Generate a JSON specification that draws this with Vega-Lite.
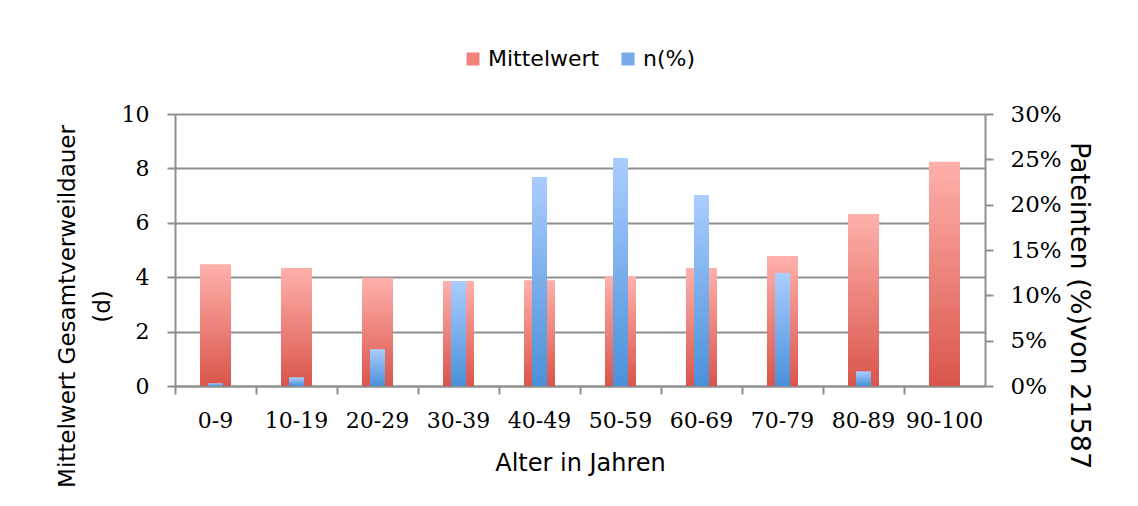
{
  "$schema": "https://vega.github.io/schema/vega-lite/v6.json",
  "width": 810,
  "height": 272,
  "autosize": "none",
  "padding": {"left": 175, "top": 114, "right": 153, "bottom": 120},
  "background": "white",
  "data": {
    "values": [
      {"Alter": "0-9", "Mittelwert": 4.48, "n": 0.3},
      {"Alter": "10-19", "Mittelwert": 4.34, "n": 0.96},
      {"Alter": "20-29", "Mittelwert": 3.98, "n": 4.06},
      {"Alter": "30-39", "Mittelwert": 3.86, "n": 11.57},
      {"Alter": "40-49", "Mittelwert": 3.89, "n": 23.06},
      {"Alter": "50-59", "Mittelwert": 4.04, "n": 25.16},
      {"Alter": "60-69", "Mittelwert": 4.34, "n": 21.07},
      {"Alter": "70-79", "Mittelwert": 4.78, "n": 12.45},
      {"Alter": "80-89", "Mittelwert": 6.32, "n": 1.62},
      {"Alter": "90-100", "Mittelwert": 8.24, "n": 0}
    ]
  },
  "encoding": {
    "x": {
      "field": "Alter",
      "type": "nominal",
      "sort": null,
      "scale": {"paddingInner": 0, "paddingOuter": 0},
      "axis": {
        "title": "Alter in Jahren",
        "labelAngle": 0,
        "bandPosition": 0,
        "tickSize": 8,
        "tickWidth": 2,
        "tickColor": "#8f8f8f",
        "domainColor": "#8f8f8f",
        "domainWidth": 2,
        "labelFont": "DejaVu Serif",
        "labelFontSize": 22,
        "labelColor": "#000000",
        "labelPadding": 16,
        "labelBaseline": "top",
        "titleFont": "DejaVu Sans",
        "titleFontSize": 24,
        "titleFontWeight": "normal",
        "titleColor": "#000000",
        "titleBaseline": "top",
        "titleY": 65,
        "titleX": 405
      }
    }
  },
  "layer": [
    {
      "mark": {
        "type": "bar",
        "width": 31,
        "color": {"gradient": "linear", "x1": 0, "y1": 0, "x2": 0, "y2": 1, "stops": [{"offset": 0, "color": "#ffb1ac"}, {"offset": 1, "color": "#d9554b"}]}
      },
      "encoding": {
        "y": {
          "field": "Mittelwert",
          "type": "quantitative",
          "scale": {"domain": [0, 10], "nice": false},
          "axis": {
            "orient": "left",
            "values": [0, 2, 4, 6, 8, 10],
            "grid": true,
            "gridColor": "#8f8f8f",
            "gridWidth": 2,
            "gridOpacity": 1,
            "tickSize": 8,
            "tickWidth": 2,
            "tickColor": "#8f8f8f",
            "domainColor": "#8f8f8f",
            "domainWidth": 2,
            "labelFont": "DejaVu Serif",
            "labelFontSize": 22,
            "labelColor": "#000000",
            "labelPadding": 18,
            "title": ["Mittelwert Gesamtverweildauer", "(d)"],
            "titleFont": "DejaVu Sans",
            "titleFontSize": 23,
            "titleFontWeight": "normal",
            "titleColor": "#000000",
            "titleAngle": 270,
            "titleAlign": "center",
            "titleBaseline": "top",
            "titleLineHeight": 35,
            "titleX": -119,
            "titleY": 192
          }
        }
      }
    },
    {
      "mark": {
        "type": "bar",
        "width": 15,
        "color": {"gradient": "linear", "x1": 0, "y1": 0, "x2": 0, "y2": 1, "stops": [{"offset": 0, "color": "#abcdff"}, {"offset": 1, "color": "#4a90d8"}]}
      },
      "encoding": {
        "y": {
          "field": "n",
          "type": "quantitative",
          "scale": {"domain": [0, 30], "nice": false},
          "axis": {
            "orient": "right",
            "values": [0, 5, 10, 15, 20, 25, 30],
            "labelExpr": "datum.value + '%'",
            "grid": false,
            "tickSize": 8,
            "tickWidth": 2,
            "tickColor": "#8f8f8f",
            "domainColor": "#8f8f8f",
            "domainWidth": 2,
            "labelFont": "DejaVu Serif",
            "labelFontSize": 23,
            "labelColor": "#000000",
            "labelPadding": 17,
            "title": "Pateinten  (%)von 21587",
            "titleFont": "DejaVu Sans",
            "titleFontSize": 27,
            "titleFontWeight": "normal",
            "titleColor": "#000000",
            "titleAngle": 90,
            "titleAlign": "center",
            "titleBaseline": "top",
            "titleX": 106,
            "titleY": 191
          }
        }
      }
    },
    {
      "data": {"values": [{"Serie": "Mittelwert"}, {"Serie": "n(%)"}]},
      "transform": [{"filter": "datum.Serie == 'keine'"}],
      "mark": {"type": "square"},
      "encoding": {
        "x": {"value": 0},
        "color": {
          "field": "Serie",
          "type": "nominal",
          "scale": {"domain": ["Mittelwert", "n(%)"], "range": ["#ef837c", "#78aaea"]},
          "legend": {
            "title": null,
            "orient": "none",
            "direction": "horizontal",
            "legendX": 287,
            "legendY": -66,
            "symbolType": "square",
            "symbolSize": 169,
            "symbolStrokeWidth": 0,
            "symbolOpacity": 1,
            "labelFont": "DejaVu Sans",
            "labelFontSize": 22,
            "labelColor": "#000000",
            "labelOffset": 4,
            "columnPadding": 17,
            "padding": 0
          }
        }
      }
    }
  ],
  "resolve": {"scale": {"y": "independent"}},
  "config": {
    "view": {"stroke": null},
    "font": "DejaVu Sans"
  }
}
